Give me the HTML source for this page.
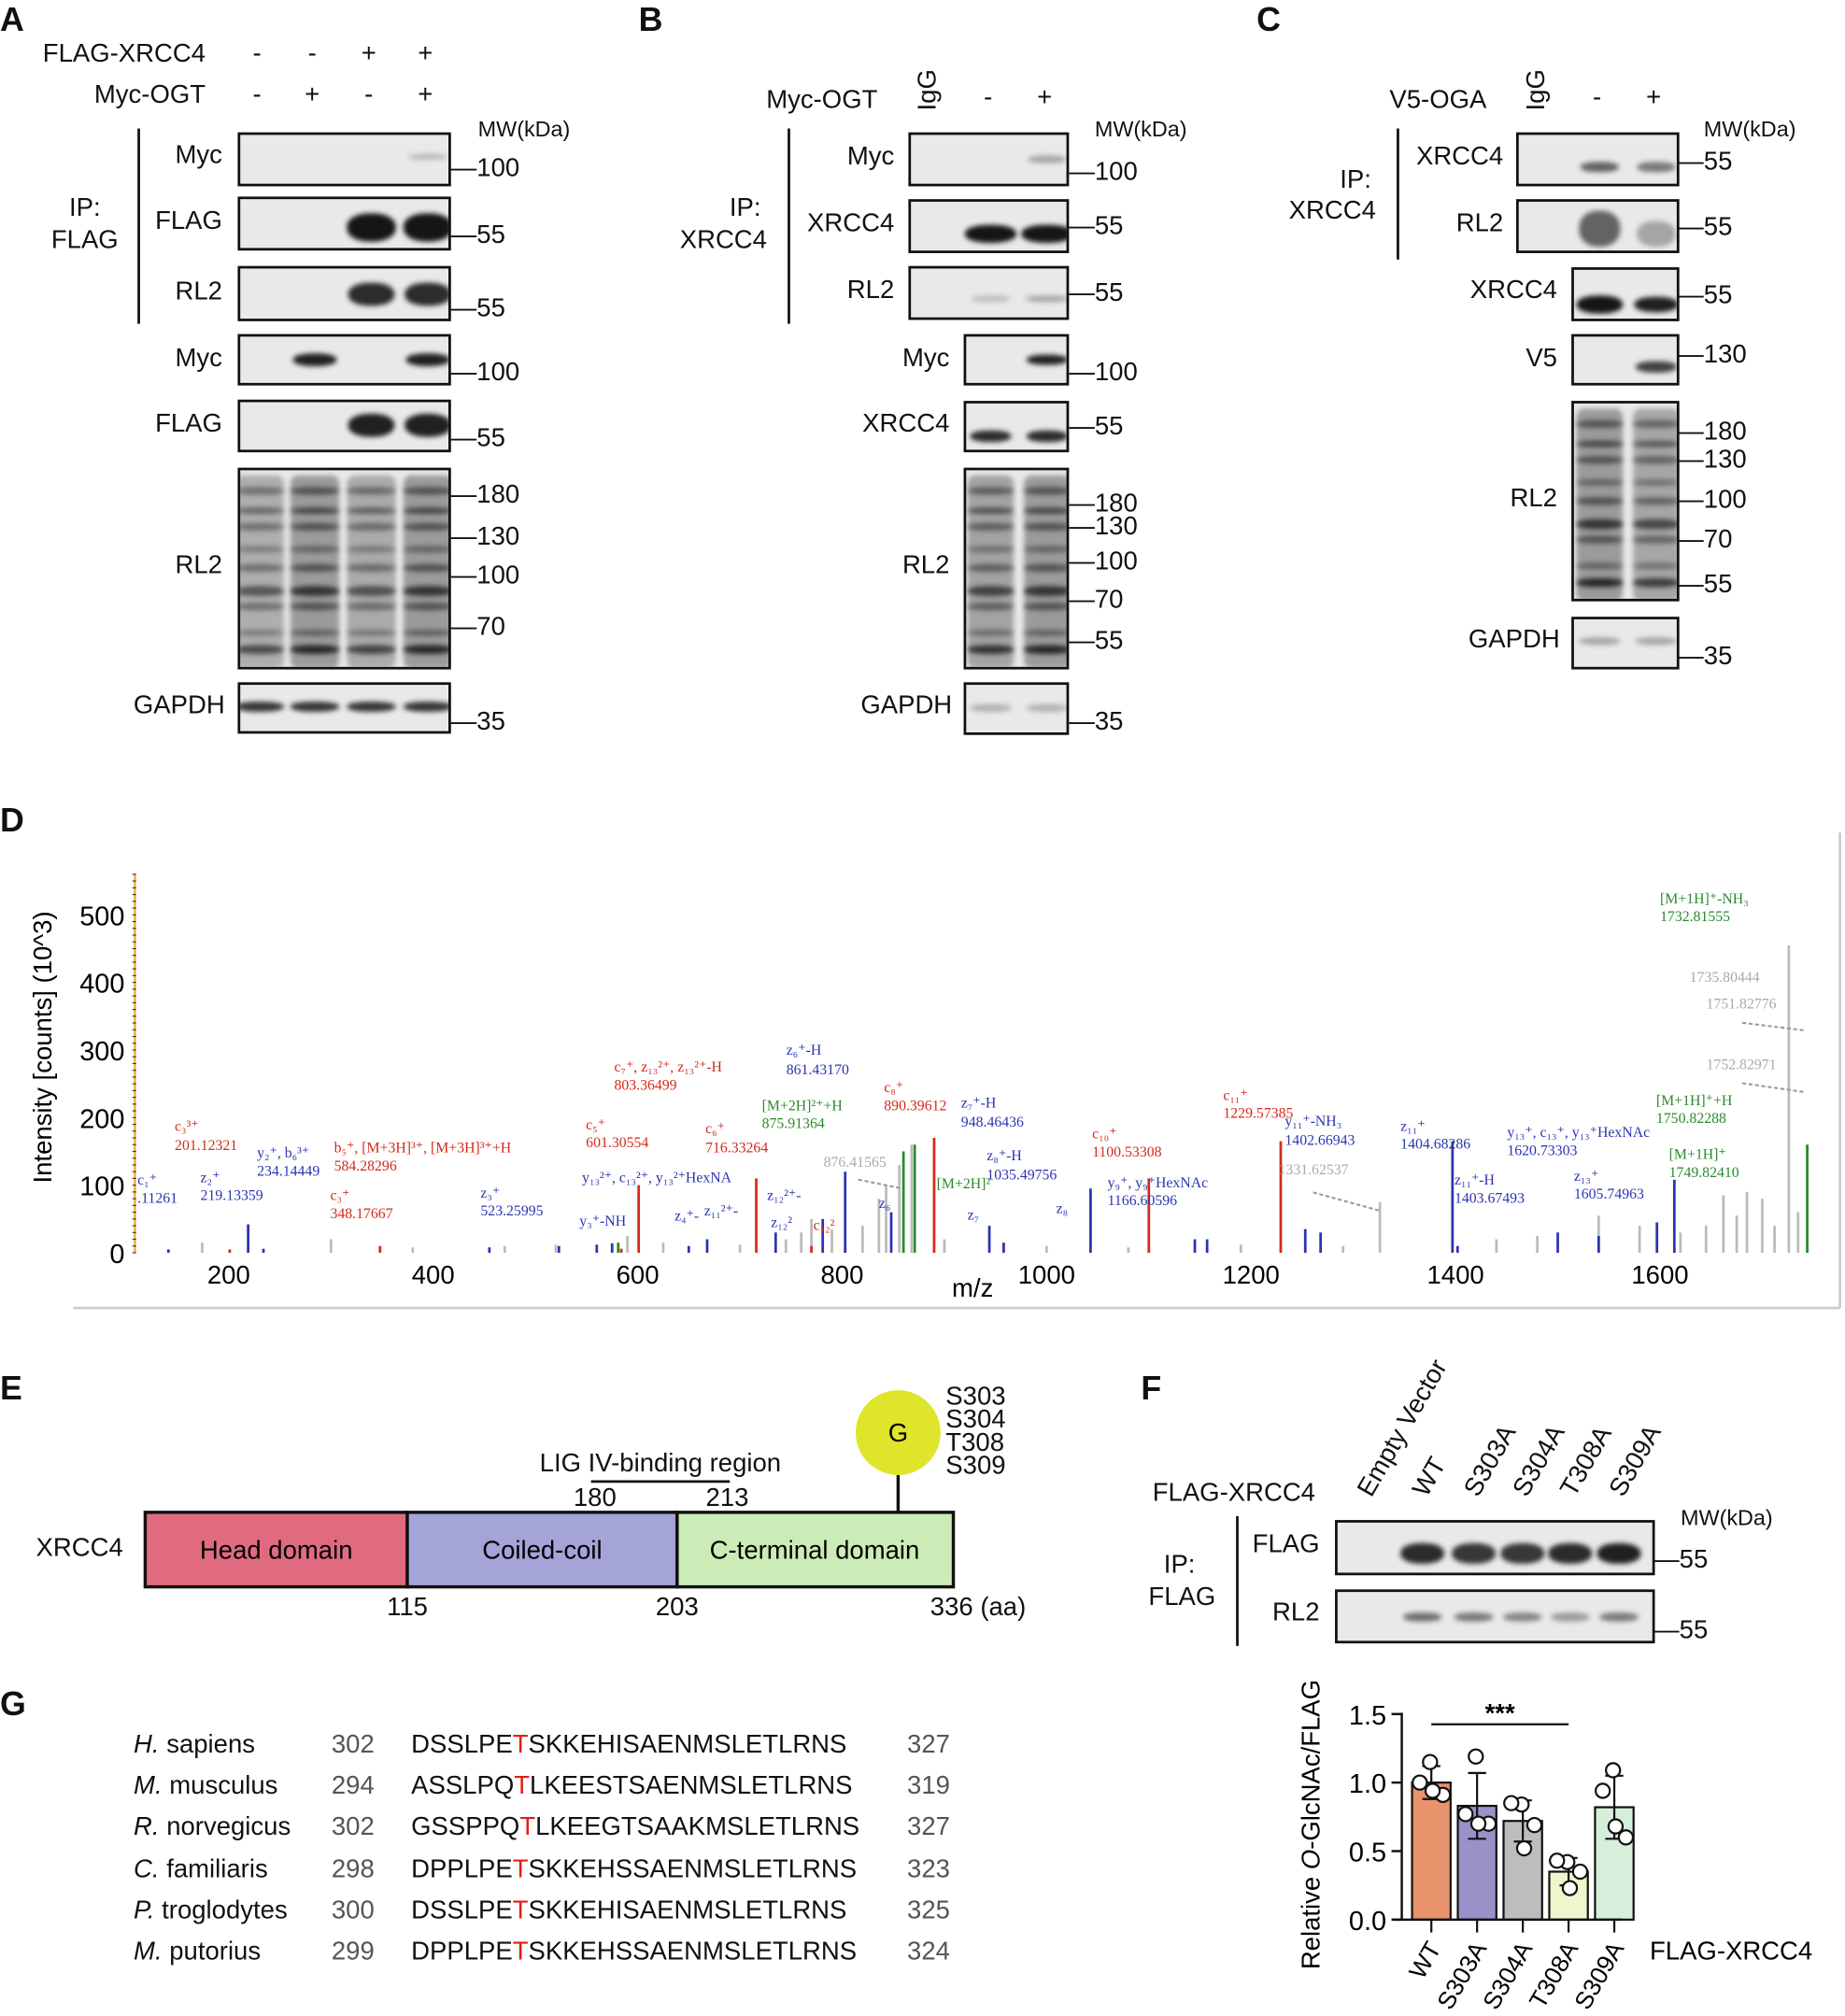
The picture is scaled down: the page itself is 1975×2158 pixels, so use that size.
<!DOCTYPE html>
<html><head><meta charset="utf-8"><style>
body{margin:0;background:#fff;width:1975px;height:2158px;overflow:hidden}
#w{position:absolute;left:0;top:0;width:1436px;height:1569px;transform:scale(1.3754);transform-origin:0 0;font-family:"Liberation Sans",sans-serif;color:#111}
.t{position:absolute;font-size:20px;white-space:nowrap;line-height:1}
.r{transform:translateX(-100%)}
.c{transform:translateX(-50%)}
.L{position:absolute;font-size:26px;font-weight:bold}
.box{position:absolute;border:2px solid #111;background:#e9e9e7;overflow:hidden;box-sizing:border-box}
.band{position:absolute;border-radius:45%;filter:blur(2px)}
.br{position:absolute;width:2px;background:#111}
.mk{position:absolute;font-size:20px;line-height:1;white-space:nowrap}
</style></head><body>
<div id="w">
<div class="L" style="left:0;top:0">A</div>
<div class="L" style="left:497px;top:0">B</div>
<div class="L" style="left:978px;top:0">C</div>
<div class="L" style="left:0;top:623px">D</div>
<div class="L" style="left:0;top:1065px">E</div>
<div class="L" style="left:888px;top:1065px">F</div>
<div class="L" style="left:0;top:1311px">G</div>
<svg id="svg" width="1436" height="1569" style="position:absolute;left:0;top:0"></svg>
</div>
<script>
var W=document.getElementById('w');
function T(x,y,s,cls,name,st){var d=document.createElement('div');d.className='t '+(cls||'');d.style.left=x+'px';d.style.top=(y-10)+'px';d.textContent=s;if(st)d.style.cssText+=st;


W.appendChild(d);return d;}
function box(x,y,w,h,name){var b=document.createElement('div');b.className='box';b.style.left=x+'px';b.style.top=y+'px';b.style.width=w+'px';b.style.height=h+'px';


W.appendChild(b);return b;}
function band(b,bx,by,cx,cy,w,h,op){var d=document.createElement('div');d.className='band';d.style.left=(cx-bx-w/2)+'px';d.style.top=(cy-by-h/2)+'px';d.style.width=w+'px';d.style.height=h+'px';d.style.background='rgba(10,10,10,'+op+')';


b.appendChild(d);}
function smear(b,bx,by,cx,top,bot,w,rows,base){
var d=document.createElement('div');d.className='band';d.style.left=(cx-bx-w/2)+'px';d.style.top=(top-by)+'px';d.style.width=w+'px';d.style.height=(bot-top)+'px';d.style.background='rgba(60,60,60,'+(0.45*base)+')';d.style.borderRadius='6px';


b.appendChild(d);
rows.forEach(function(r){band(b,bx,by,cx,r[0],w,r[1],r[2]*base);});}
function mk(x,y,s){var d=document.createElement('div');d.className='mk';d.style.left=x+'px';d.style.top=(y-10)+'px';d.textContent='\u2014'+s;


W.appendChild(d);}
function brk(x,y1,y2){var d=document.createElement('div');d.className='br';d.style.left=x+'px';d.style.top=y1+'px';d.style.height=(y2-y1)+'px';


W.appendChild(d);}
var smRows=[[380,6,0.5],[395,5,0.6],[408,6,0.5],[425,5,0.4],[440,6,0.5],[458,8,0.7],[470,6,0.5],[490,5,0.4],[503,7,0.8]];
// ---- Panel A
var A=[200,243,287,331];
T(160,42,'FLAG-XRCC4','r','row-label-flag-xrcc4');T(160,74,'Myc-OGT','r','row-label-myc-ogt');
['-','-','+','+'].forEach(function(s,i){T(A[i],42,s,'c','sign');});
['-','+','-','+'].forEach(function(s,i){T(A[i],74,s,'c','sign');});
T(372,102,'MW(kDa)','','mw-label','font-size:17px');
var b;
b=box(185,103,166,42,'blot-a-ip-myc');band(b,185,103,331,120,30,4,0.25);
b=box(185,153,166,42,'blot-a-ip-flag');band(b,185,153,287,175,38,22,0.95);band(b,185,153,331,175,38,22,0.95);
b=box(185,207,166,43,'blot-a-ip-rl2');band(b,185,207,287,227,36,18,0.85);band(b,185,207,331,227,36,18,0.85);
b=box(185,260,166,40,'blot-a-myc');band(b,185,260,243,278,34,10,0.9);band(b,185,260,331,278,34,10,0.9);
b=box(185,311,166,41,'blot-a-flag');band(b,185,311,287,329,36,18,0.9);band(b,185,311,331,329,36,18,0.9);
b=box(185,364,166,157,'blot-a-rl2');A.forEach(function(x,i){smear(b,185,364,x,368,518,38,smRows,[0.75,1,0.8,1][i]);});
b=box(185,531,166,40,'blot-a-gapdh');A.forEach(function(x){band(b,185,531,x,548,38,8,0.8);});
T(173,121,'Myc','r','lbl');T(173,172,'FLAG','r','lbl');T(173,227,'RL2','r','lbl');T(173,279,'Myc','r','lbl');T(173,330,'FLAG','r','lbl');T(173,440,'RL2','r','lbl');T(175,549,'GAPDH','r','lbl');
brk(107,100,252);T(66,162,'IP:','c','ip-label');T(66,187,'FLAG','c','ip-label');
[[131,'100'],[183,'55'],[240,'55'],[290,'100'],[341,'55'],[385,'180'],[418,'130'],[448,'100'],[488,'70'],[562,'35']].forEach(function(m){mk(351,m[0],m[1]);});
// ---- Panel B
T(683,78,'Myc-OGT','r','row-label-myc-ogt');T(722,70,'IgG','c','lane-igg','transform:translateX(-50%) rotate(-90deg)');T(769,76,'-','c','sign');T(813,76,'+','c','sign');
T(852,102,'MW(kDa)','','mw-label','font-size:17px');
b=box(707,103,125,42,'blot-b-ip-myc');band(b,707,103,813,122,30,6,0.3);
b=box(707,155,125,42,'blot-b-ip-xrcc4');band(b,707,155,769,180,40,14,0.95);band(b,707,155,813,180,40,14,0.95);
b=box(707,207,125,42,'blot-b-ip-rl2');band(b,707,207,769,230,30,5,0.2);band(b,707,207,813,230,34,5,0.3);
b=box(750,260,82,40,'blot-b-myc');band(b,750,260,813,278,32,8,0.9);
b=box(750,312,82,40,'blot-b-xrcc4');band(b,750,312,769,337,32,9,0.85);band(b,750,312,813,337,32,9,0.85);
b=box(750,364,82,157,'blot-b-rl2');[769,813].forEach(function(x,i){smear(b,750,364,x,368,518,36,smRows,[0.9,1][i]);});
b=box(750,531,82,41,'blot-b-gapdh');band(b,750,531,769,549,32,6,0.25);band(b,750,531,813,549,32,6,0.25);
T(696,122,'Myc','r','lbl');T(696,174,'XRCC4','r','lbl');T(696,226,'RL2','r','lbl');T(739,279,'Myc','r','lbl');T(739,330,'XRCC4','r','lbl');T(739,440,'RL2','r','lbl');T(741,549,'GAPDH','r','lbl');
brk(613,100,252);T(580,162,'IP:','c','ip-label');T(563,187,'XRCC4','c','ip-label');
[[134,'100'],[176,'55'],[228,'55'],[290,'100'],[332,'55'],[392,'180'],[410,'130'],[437,'100'],[467,'70'],[499,'55'],[562,'35']].forEach(function(m){mk(832,m[0],m[1]);});
// ---- Panel C
T(1157,78,'V5-OGA','r','row-label-v5-oga');T(1196,70,'IgG','c','lane-igg','transform:translateX(-50%) rotate(-90deg)');T(1243,76,'-','c','sign');T(1287,76,'+','c','sign');
T(1326,102,'MW(kDa)','','mw-label','font-size:17px');
b=box(1180,103,127,42,'blot-c-ip-xrcc4');band(b,1180,103,1243,128,30,8,0.6);band(b,1180,103,1287,128,30,8,0.5);
b=box(1180,155,127,42,'blot-c-ip-rl2');band(b,1180,155,1243,176,32,28,0.6);band(b,1180,155,1287,180,30,20,0.3);
b=box(1223,208,84,42,'blot-c-xrcc4');band(b,1223,208,1243,235,36,14,0.95);band(b,1223,208,1287,235,34,12,0.9);
b=box(1223,260,84,40,'blot-c-v5');band(b,1223,260,1287,283,32,9,0.75);
b=box(1223,312,84,156,'blot-c-rl2');[1243,1287].forEach(function(x,i){smear(b,1223,312,x,316,466,36,smRows.map(function(r){return [r[0]-52,r[1],r[2]];}),[1,0.85][i]);});
b=box(1223,480,84,41,'blot-c-gapdh');band(b,1223,480,1243,497,32,6,0.3);band(b,1223,480,1287,497,32,6,0.3);
T(1170,122,'XRCC4','r','lbl');T(1170,174,'RL2','r','lbl');T(1212,226,'XRCC4','r','lbl');T(1212,279,'V5','r','lbl');T(1212,388,'RL2','r','lbl');T(1214,498,'GAPDH','r','lbl');
brk(1087,100,202);T(1055,140,'IP:','c','ip-label');T(1037,164,'XRCC4','c','ip-label');
[[126,'55'],[177,'55'],[230,'55'],[276,'130'],[336,'180'],[358,'130'],[389,'100'],[420,'70'],[455,'55'],[511,'35']].forEach(function(m){mk(1306,m[0],m[1]);});
// ---- Panel E
T(28,1205,'XRCC4','','domain-protein-label');
T(420,1139,'LIG IV-binding region','','lig4-label');T(463,1166,'180','c','pos');T(566,1166,'213','c','pos');
T(317,1251,'115','c','pos');T(527,1251,'203','c','pos');T(724,1251,'336 (aa)','','pos');
['S303','S304','T308','S309'].forEach(function(s,i){T(736,1087+18*i,s,'','site-label');});
// ---- Panel F
var FL=[1105,1145,1183,1220,1258];
['Empty Vector','WT','S303A','S304A','T308A','S309A'].forEach(function(s,i){var x=[1062,1105,1145,1183,1220,1258][i];
T(x,1163,s,'','lane-label','transform-origin:0 50%;transform:rotate(-60deg)');});
T(897,1162,'FLAG-XRCC4','','row-label');T(918,1218,'IP:','c','ip-label');T(920,1243,'FLAG','c','ip-label');brk(962,1180,1281);
T(1027,1202,'FLAG','r','lbl');T(1027,1255,'RL2','r','lbl');T(1308,1183,'MW(kDa)','','mw-label','font-size:17px');
b=box(1039,1183,249,43,'blot-f-flag');FL.forEach(function(x,i){band(b,1039,1183,x,1207,34,16,[0.85,0.8,0.8,0.85,0.9][i]);});
b=box(1039,1237,249,42,'blot-f-rl2');FL.forEach(function(x,i){band(b,1039,1237,x,1256,30,7,[0.55,0.5,0.45,0.35,0.5][i]);});
mk(1287,1214,'55');mk(1287,1269,'55');
// ---- Panel G
var sp=[['H.',' sapiens','302','DSSLPE','T','SKKEHISAENMSLETLRNS','327'],['M.',' musculus','294','ASSLPQ','T','LKEESTSAENMSLETLRNS','319'],['R.',' norvegicus','302','GSSPPQ','T','LKEEGTSAAKMSLETLRNS','327'],['C.',' familiaris','298','DPPLPE','T','SKKEHSSAENMSLETLRNS','323'],['P.',' troglodytes','300','DSSLPE','T','SKKEHISAENMSLETLRNS','325'],['M.',' putorius','299','DPPLPE','T','SKKEHSSAENMSLETLRNS','324']];
sp.forEach(function(r,i){var y=1358+32.2*i;var d=T(104,y,'','','species-name');d.innerHTML='<i>'+r[0]+'</i>'+r[1];
T(258,y,r[2],'','seq-start','color:#555');var s=T(320,y,'','','sequence');s.innerHTML=r[3]+'<span style="color:#e02010">'+r[4]+'</span>'+r[5];T(706,y,r[6],'','seq-end','color:#555');});
</script>
<script>
// ===== Spectrum data (panel D)
var mzRed=[201,348,584,601,716,803,890,1100,1229,770];
var intRed=[5,10,6,100,110,8,170,110,165,10];
var mzBlue=[141,219,234,455,523,560,575,650,668,735,781,803,848,944,958,1043,1145,1157,1253,1268,1397,1402,1500,1540,1597,1614];
var intBlue=[5,42,6,8,10,12,14,10,20,30,50,120,60,40,15,95,20,20,35,30,165,10,30,25,45,108];
var mzGreen=[581,860,871,1744];
var intGreen=[15,150,160,160];
var mzGrey=[174,300,380,470,520,590,625,700,745,760,770,790,820,836,843,856,868,900,1000,1080,1190,1290,1326,1440,1480,1540,1580,1620,1645,1662,1675,1685,1700,1712,1726,1735];
var intGrey=[15,20,8,10,12,25,15,12,20,30,50,35,40,80,100,130,160,20,10,8,12,10,75,20,25,55,40,30,40,85,55,90,80,40,455,60];
var xTicks=[200,400,600,800,1000,1200,1400,1600];
var yTicks=[0,100,200,300,400,500];
// ===== Bar chart data (panel F)
var groups=['WT','S303A','S304A','T308A','S309A'];
var means=[1.0,0.83,0.72,0.35,0.82];
var sds=[0.12,0.24,0.15,0.10,0.23];
var pts=[[1.15,1.0,0.91,0.94],[1.19,0.77,0.7,0.7],[0.84,0.85,0.69,0.52],[0.42,0.43,0.35,0.23],[1.09,0.94,0.6,0.68]];
var barTicks=[0,0.5,1.0,1.5];
var barColors=['#e8936c','#9c90c9','#bdbdbd','#eff5cd','#d5efda'];
var svg=document.getElementById('svg');var NS='http://www.w3.org/2000/svg';
function el(t,a,name,parent){var e=document.createElementNS(NS,t);for(var k in a)e.setAttribute(k,a[k]);


(parent||svg).appendChild(e);return e;}
function mx(m){return 178+(m-200)*0.7957;}
function iy(v){return 975-v*263/500;}
el('line',{x1:57,y1:1018,x2:1432,y2:1018,stroke:'#ccc','stroke-width':2},'spectrum-frame-bottom');
el('line',{x1:1432,y1:648,x2:1432,y2:1018,stroke:'#ccc','stroke-width':2},'spectrum-frame-right');
el('line',{x1:105,y1:680,x2:105,y2:975,stroke:'#f0a020','stroke-width':1.5},'spectrum-y-axis');
for(var v=0;v<=560;v+=10){el('line',{x1:103,y1:iy(v),x2:106,y2:iy(v),stroke:'#333','stroke-width':0.8},'y-minor-tick');}
yTicks.forEach(function(t){var e=el('text',{x:97,y:iy(t)+8,'text-anchor':'end','font-size':21,'font-family':'Liberation Sans'},'y-tick-label');e.textContent=t;});
xTicks.forEach(function(t){var e=el('text',{x:mx(t),y:999,'text-anchor':'middle','font-size':20,'font-family':'Liberation Sans'},'x-tick-label');e.textContent=t;});
var yt=el('text',{x:40,y:815,'text-anchor':'middle','font-size':20,'font-family':'Liberation Sans',transform:'rotate(-90 40 815)'},'y-axis-title');yt.textContent='Intensity [counts] (10^3)';
var xt=el('text',{x:757,y:1009,'text-anchor':'middle','font-size':20,'font-family':'Liberation Sans'},'x-axis-title');xt.textContent='m/z';
function peaks(mz,it,col,nm){mz.forEach(function(m,i){el('line',{x1:mx(m),y1:975,x2:mx(m),y2:iy(it[i]),stroke:col,'stroke-width':2},nm);});}
peaks(mzGrey,intGrey,'#bbb','peak-grey');peaks(mzRed,intRed,'#d42a1a','peak-red');peaks(mzBlue,intBlue,'#2a35b0','peak-blue');peaks(mzGreen,intGreen,'#2a8a2a','peak-green');
var ann=[['#d42a1a',[[136,880,'c₃³⁺'],[136,895,'201.12321'],[260,897,'b₅⁺, [M+3H]³⁺, [M+3H]³⁺+H'],[260,911,'584.28296'],[257,934,'c₃⁺'],[257,948,'348.17667'],[456,879,'c₅⁺'],[456,893,'601.30554'],[549,882,'c₆⁺'],[549,897,'716.33264'],[478,834,'c₇⁺, z₁₃²⁺, z₁₃²⁺-H'],[478,848,'803.36499'],[688,850,'c₈⁺'],[688,864,'890.39612'],[850,886,'c₁₀⁺'],[850,900,'1100.53308'],[952,856,'c₁₁⁺'],[952,870,'1229.57385'],[633,957,'c₁₂²']]],
['#2a35b0',[[107,922,'c₁⁺'],[107,936,'.11261'],[156,920,'z₂⁺'],[156,934,'219.13359'],[200,901,'y₂⁺, b₆³⁺'],[200,915,'234.14449'],[374,932,'z₃⁺'],[374,946,'523.25995'],[453,920,'y₁₃²⁺, c₁₃²⁺, y₁₃²⁺HexNA'],[451,954,'y₃⁺-NH'],[525,950,'z₄⁺-'],[548,946,'z₁₁²⁺-'],[597,934,'z₁₂²⁺-'],[600,955,'z₁₂²'],[612,821,'z₆⁺-H'],[612,836,'861.43170'],[748,862,'z₇⁺-H'],[748,877,'948.46436'],[684,940,'z₆'],[768,903,'z₈⁺-H'],[768,918,'1035.49756'],[753,949,'z₇'],[822,944,'z₈'],[862,924,'y₉⁺, y₉⁺HexNAc'],[862,938,'1166.60596'],[1000,876,'y₁₁⁺-NH₃'],[1000,891,'1402.66943'],[1090,880,'z₁₁⁺'],[1090,894,'1404.68286'],[1132,922,'z₁₁⁺-H'],[1132,936,'1403.67493'],[1173,885,'y₁₃⁺, c₁₃⁺, y₁₃⁺HexNAc'],[1173,899,'1620.73303'],[1225,919,'z₁₃⁺'],[1225,933,'1605.74963']]],
['#2a8a2a',[[593,864,'[M+2H]²⁺+H'],[593,878,'875.91364'],[729,925,'[M+2H]²'],[1292,703,'[M+1H]⁺-NH₃'],[1292,717,'1732.81555'],[1289,860,'[M+1H]⁺+H'],[1289,874,'1750.82288'],[1299,902,'[M+1H]⁺'],[1299,916,'1749.82410']]],
['#aaa',[[641,908,'876.41565'],[995,914,'1331.62537'],[1315,764,'1735.80444'],[1328,785,'1751.82776'],[1328,832,'1752.82971']]]];
ann.forEach(function(g){g[1].forEach(function(a){var e=el('text',{x:a[0],y:a[1],fill:g[0],'font-size':11.5,'font-family':'Liberation Serif'},'peak-annotation');e.textContent=a[2];});});
[[668,918,702,925],[1022,928,1073,942],[1356,796,1405,802],[1356,843,1405,850]].forEach(function(l){el('line',{x1:l[0],y1:l[1],x2:l[2],y2:l[3],stroke:'#999','stroke-width':1.5,'stroke-dasharray':'3,2'},'annotation-leader');});
// ===== Domain diagram
el('rect',{x:113,y:1177,width:204,height:58,fill:'#e06b7e',stroke:'#111','stroke-width':2.5},'head-domain');
el('rect',{x:317,y:1177,width:210,height:58,fill:'#a4a4d8',stroke:'#111','stroke-width':2.5},'coiled-coil-domain');
el('rect',{x:527,y:1177,width:215,height:58,fill:'#cbecb7',stroke:'#111','stroke-width':2.5},'c-terminal-domain');
[[215,'Head domain'],[422,'Coiled-coil'],[634,'C-terminal domain']].forEach(function(d){var e=el('text',{x:d[0],y:1213,'text-anchor':'middle','font-size':20,'font-family':'Liberation Sans'},'domain-label');e.textContent=d[1];});
el('line',{x1:460,y1:1153,x2:568,y2:1153,stroke:'#111','stroke-width':2},'lig4-region-line');
el('line',{x1:699,y1:1148,x2:699,y2:1177,stroke:'#111','stroke-width':2.5},'glcnac-stick');
el('circle',{cx:699,cy:1115,r:33,fill:'#dfe52a'},'glcnac-circle');
var gt=el('text',{x:699,y:1122,'text-anchor':'middle','font-size':20,'font-family':'Liberation Sans'},'glcnac-g');gt.textContent='G';
// ===== Bar chart
var bx0=1091;function by(v){return 1494-v*(1494-1334)/1.5;}
function bcx(i){return 1114+i*35.6;}
groups.forEach(function(g,i){var x=bcx(i);
el('rect',{x:x-15,y:by(means[i]),width:30,height:by(0)-by(means[i]),fill:barColors[i],stroke:'#111','stroke-width':1.6},'bar-'+g);
el('line',{x1:x,y1:by(means[i]+sds[i]),x2:x,y2:by(means[i]-sds[i]),stroke:'#111','stroke-width':1.6},'error-bar');
[means[i]+sds[i],means[i]-sds[i]].forEach(function(v){el('line',{x1:x-7,y1:by(v),x2:x+7,y2:by(v),stroke:'#111','stroke-width':1.6},'error-cap');});
pts[i].forEach(function(v,j){el('circle',{cx:x+[-1,-9,9,1][j],cy:by(v),r:5.5,fill:'#fff',stroke:'#111','stroke-width':1.6},'data-point');});
el('line',{x1:x,y1:by(0),x2:x,y2:by(0)+10,stroke:'#111','stroke-width':1.6},'x-tick');
var e=el('text',{x:x+8,y:by(0)+22,'text-anchor':'end','font-size':19,'font-family':'Liberation Sans',transform:'rotate(-60 '+(x+8)+' '+(by(0)+22)+')'},'x-tick-label');e.textContent=g;});
el('line',{x1:bx0,y1:by(1.5)-1,x2:bx0,y2:by(0),stroke:'#111','stroke-width':1.8},'bar-y-axis');
el('line',{x1:bx0-6,y1:by(0),x2:1262,y2:by(0),stroke:'#111','stroke-width':1.8},'bar-x-axis');
barTicks.forEach(function(t){el('line',{x1:bx0-8,y1:by(t),x2:bx0,y2:by(t),stroke:'#111','stroke-width':1.8},'y-tick');
var e=el('text',{x:bx0-12,y:by(t)+8,'text-anchor':'end','font-size':21,'font-family':'Liberation Sans'},'y-tick-label');e.textContent=t.toFixed(1);});
el('line',{x1:bcx(0),y1:1342,x2:bcx(3),y2:1342,stroke:'#111','stroke-width':1.6},'significance-line');
var s=el('text',{x:(bcx(0)+bcx(3))/2,y:1340,'text-anchor':'middle','font-size':20,'font-weight':'bold','font-family':'Liberation Sans'},'significance-stars');s.textContent='***';
var yl=el('text',{x:1027,y:1420,'text-anchor':'middle','font-size':20,'font-family':'Liberation Sans',transform:'rotate(-90 1027 1420)'},'bar-y-axis-title');yl.innerHTML='Relative <tspan font-style="italic">O</tspan>-GlcNAc/FLAG';
var fx=el('text',{x:1284,y:1525,'font-size':20,'font-family':'Liberation Sans'},'bar-x-axis-title');fx.textContent='FLAG-XRCC4';
</script>
</body></html>
